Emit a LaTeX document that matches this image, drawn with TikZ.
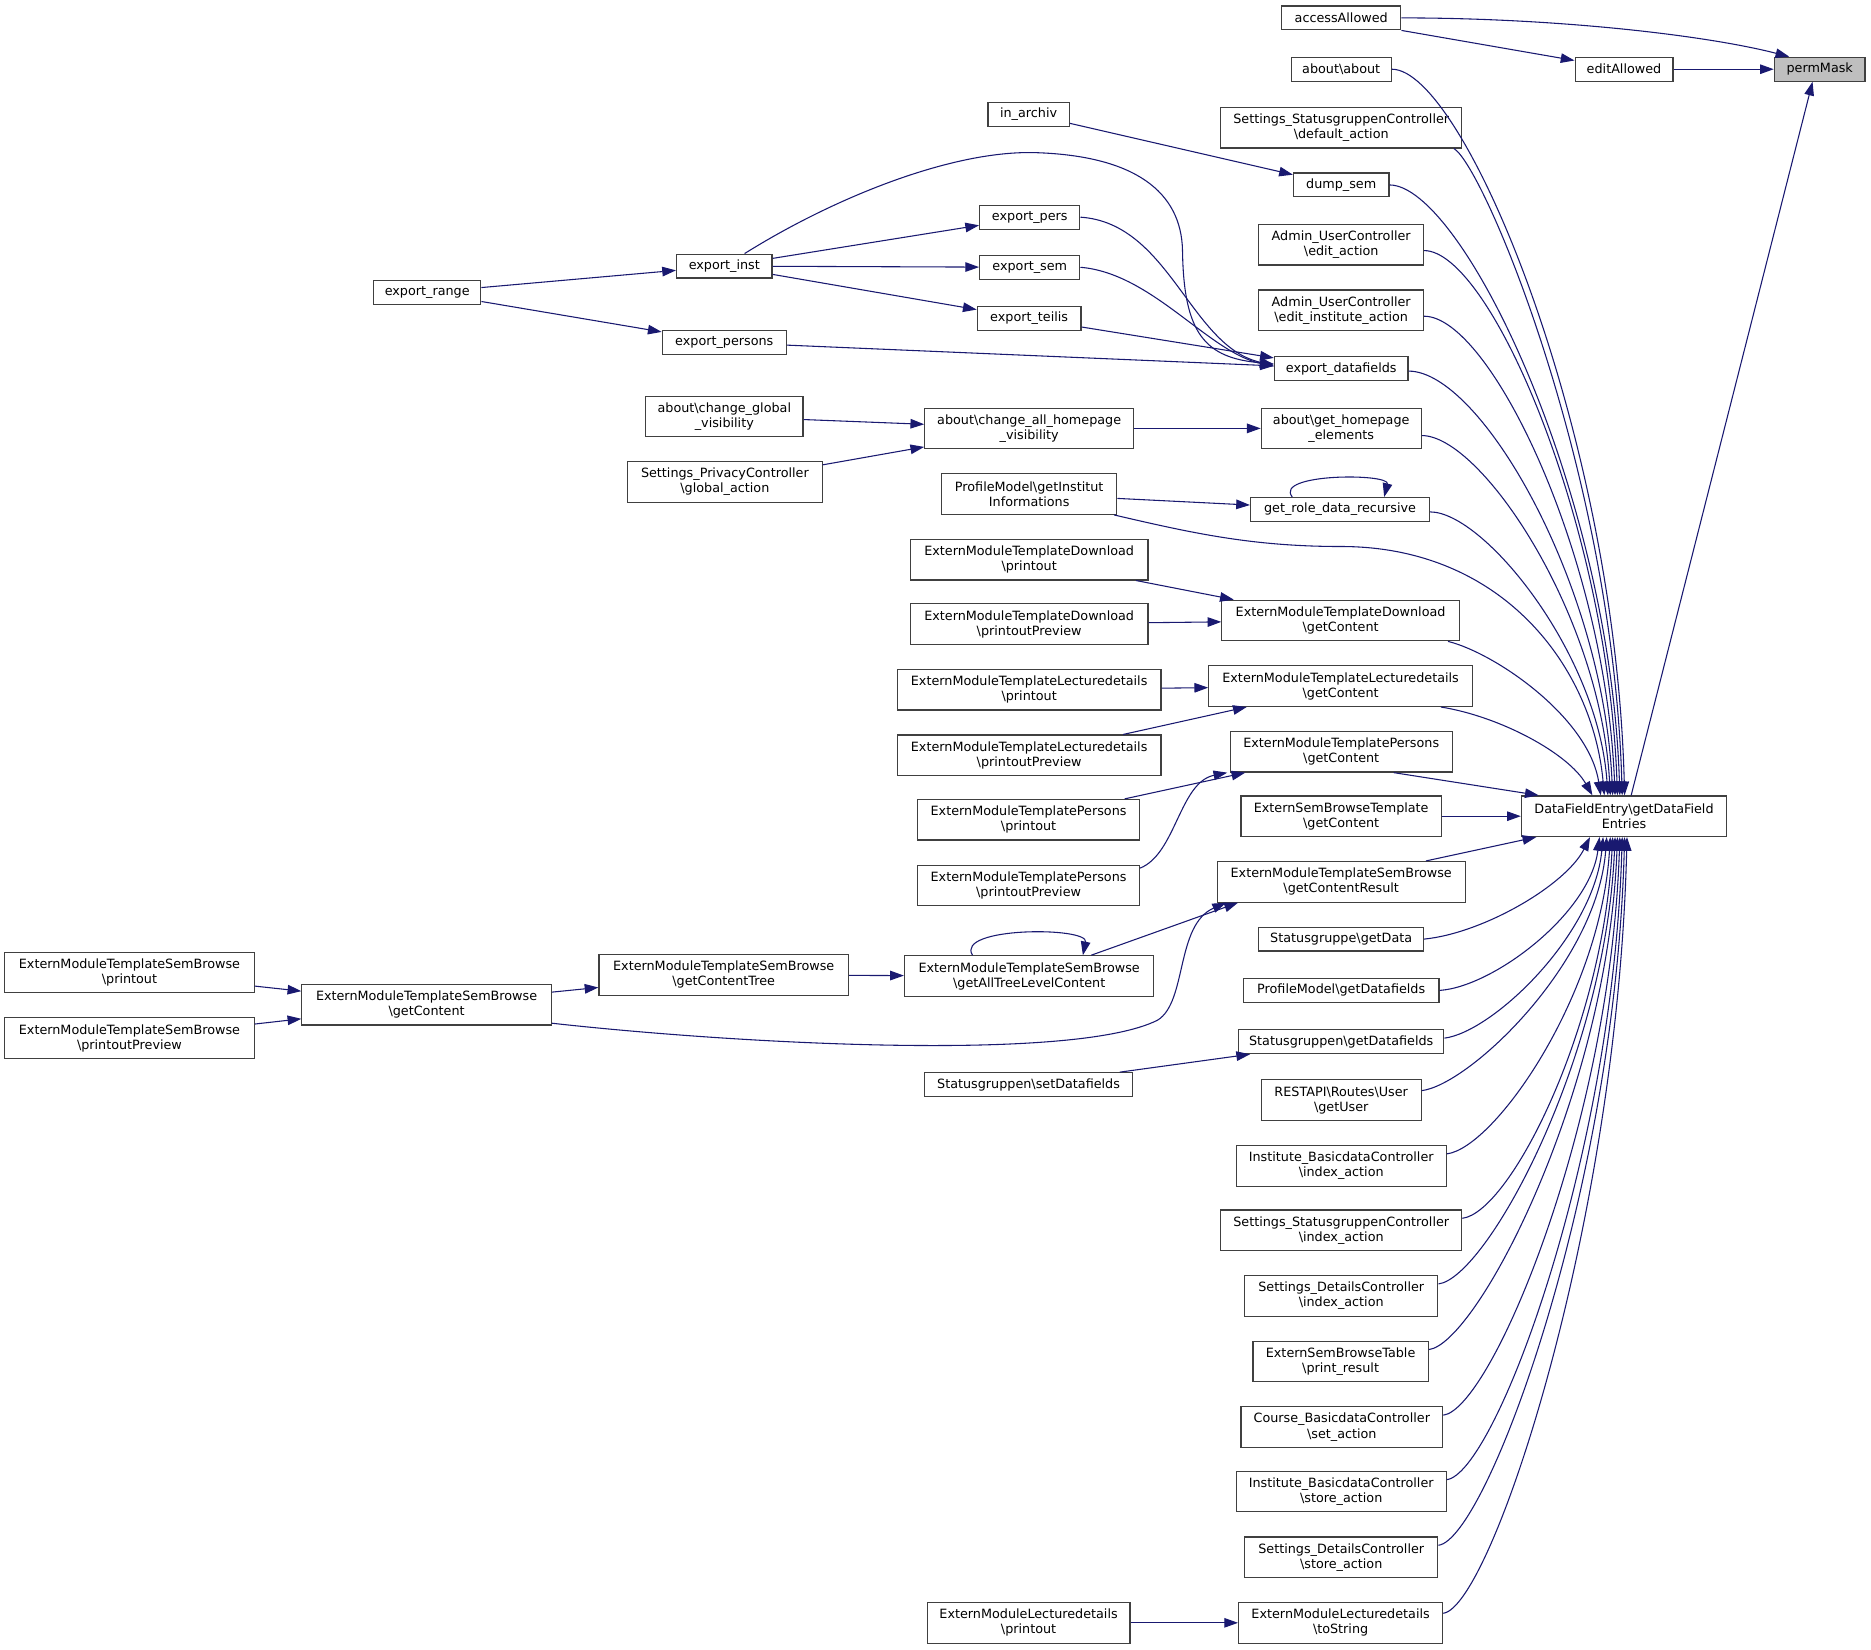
\documentclass[tikz,border=0pt]{standalone}
\usepackage{fontspec}
\setmainfont{DejaVu Sans}
\usetikzlibrary{arrows.meta,calc}
\definecolor{edgec}{RGB}{25,25,112}
\definecolor{bordc}{RGB}{64,64,64}
\definecolor{hlc}{RGB}{191,191,191}
\newcommand{\bsl}{\textbackslash}
\newcommand{\mkbox}[6]{\node[box,minimum width=#4pt,minimum height=#5pt] (#1) at (#2,#3) {#6};}
\tikzset{
  box/.style={draw=bordc, line width=1pt, fill=white, inner sep=0pt, align=center,
    font=\fontsize{10.7}{12.6}\selectfont, text=black},
  edge/.style={draw=edgec, line width=0.9pt, -{Triangle[length=11.5pt,width=8pt]}}
}
\begin{document}
\begin{tikzpicture}[x=1pt,y=-1pt]
\useasboundingbox (0,0) rectangle (1568,1382);
% nodes
\node[box,fill=hlc,minimum width=76pt,minimum height=20pt] (perm) at (1525,58) {permMask};
\mkbox{acc}{1124}{15}{100}{20}{accessAllowed}
\mkbox{edit}{1361}{58}{82}{20}{editAllowed}
\mkbox{about}{1124}{58}{84}{20}{about\bsl about}
\mkbox{defa}{1124}{107}{202}{34}{Settings\_StatusgruppenController\\\bsl default\_action}
\mkbox{arch}{862}{96}{68}{20}{in\_archiv}
\mkbox{dump}{1124}{155}{80}{20}{dump\_sem}
\mkbox{aue}{1124}{205}{138}{34}{Admin\_UserController\\\bsl edit\_action}
\mkbox{aui}{1124}{260}{138}{34}{Admin\_UserController\\\bsl edit\_institute\_action}
\mkbox{epers}{863}{182}{84}{20}{export\_pers}
\mkbox{einst}{607}{223}{80}{20}{export\_inst}
\mkbox{esem}{863}{224}{84}{20}{export\_sem}
\mkbox{erange}{358}{245}{90}{20}{export\_range}
\mkbox{eteil}{862.5}{267}{87}{20}{export\_teilis}
\mkbox{epersons}{607}{287}{104}{20}{export\_persons}
\mkbox{edf}{1124}{309}{112}{20}{export\_datafields}
\mkbox{cgv}{607}{349}{132}{34}{about\bsl change\_global\\\_visibility}
\mkbox{cahv}{862.5}{359}{175}{34}{about\bsl change\_all\_homepage\\\_visibility}
\mkbox{ghe}{1124}{359}{134}{34}{about\bsl get\_homepage\\\_elements}
\mkbox{pga}{607.5}{404}{163}{34}{Settings\_PrivacyController\\\bsl global\_action}
\mkbox{gii}{862.5}{414}{147}{34}{ProfileModel\bsl getInstitut\\Informations}
\mkbox{grole}{1123}{427}{150}{20}{get\_role\_data\_recursive}
\mkbox{etdp}{862.5}{469}{199}{34}{ExternModuleTemplateDownload\\\bsl printout}
\mkbox{etdpp}{862.5}{523}{199}{34}{ExternModuleTemplateDownload\\\bsl printoutPreview}
\mkbox{etdg}{1123.5}{520}{199}{34}{ExternModuleTemplateDownload\\\bsl getContent}
\mkbox{etlp}{862.5}{578}{221}{34}{ExternModuleTemplateLecturedetails\\\bsl printout}
\mkbox{etlg}{1123.5}{575}{221}{34}{ExternModuleTemplateLecturedetails\\\bsl getContent}
\mkbox{etlpp}{862.5}{633}{221}{34}{ExternModuleTemplateLecturedetails\\\bsl printoutPreview}
\mkbox{etpg}{1124}{630}{186}{34}{ExternModuleTemplatePersons\\\bsl getContent}
\mkbox{etpp}{862}{687}{186}{34}{ExternModuleTemplatePersons\\\bsl printout}
\mkbox{esbt}{1124}{684}{168}{34}{ExternSemBrowseTemplate\\\bsl getContent}
\mkbox{dfe}{1361}{684}{172}{34}{DataFieldEntry\bsl getDataField\\Entries}
\mkbox{etppp}{862}{742}{186}{34}{ExternModuleTemplatePersons\\\bsl printoutPreview}
\mkbox{gcr}{1124}{739}{208}{34}{ExternModuleTemplateSemBrowse\\\bsl getContentResult}
\mkbox{sbp}{108.5}{815}{209}{34}{ExternModuleTemplateSemBrowse\\\bsl printout}
\mkbox{sbpp}{108.5}{870}{209}{34}{ExternModuleTemplateSemBrowse\\\bsl printoutPreview}
\mkbox{sbg}{357.5}{842}{209}{34}{ExternModuleTemplateSemBrowse\\\bsl getContent}
\mkbox{sbt}{606.5}{817}{209}{34}{ExternModuleTemplateSemBrowse\\\bsl getContentTree}
\mkbox{gat}{862.5}{818}{209}{34}{ExternModuleTemplateSemBrowse\\\bsl getAllTreeLevelContent}
\mkbox{sgd}{1124}{787}{138}{20}{Statusgruppe\bsl getData}
\mkbox{pmd}{1124}{830}{164}{20}{ProfileModel\bsl getDatafields}
\mkbox{sgf}{1124}{873}{172}{20}{Statusgruppen\bsl getDatafields}
\mkbox{ssf}{862}{909}{174}{20}{Statusgruppen\bsl setDatafields}
\mkbox{gu}{1124}{922}{134}{34}{RESTAPI\bsl Routes\bsl User\\\bsl getUser}
\mkbox{ii}{1124}{977}{176}{34}{Institute\_BasicdataController\\\bsl index\_action}
\mkbox{ssi}{1124}{1031}{202}{34}{Settings\_StatusgruppenController\\\bsl index\_action}
\mkbox{sdi}{1124}{1086}{162}{34}{Settings\_DetailsController\\\bsl index\_action}
\mkbox{pr}{1123.5}{1141}{147}{34}{ExternSemBrowseTable\\\bsl print\_result}
\mkbox{cs}{1124.5}{1196}{169}{34}{Course\_BasicdataController\\\bsl set\_action}
\mkbox{is}{1124}{1250}{176}{34}{Institute\_BasicdataController\\\bsl store\_action}
\mkbox{sds}{1124}{1305}{162}{34}{Settings\_DetailsController\\\bsl store\_action}
\mkbox{elp}{862}{1360}{170}{34}{ExternModuleLecturedetails\\\bsl printout}
\mkbox{ts}{1123.5}{1360}{171}{34}{ExternModuleLecturedetails\\\bsl toString}
% edges to permMask
\draw[edge] (acc.east) .. controls +(130,0) and +(-70,-18) .. ($(perm.north west)+(13,0)$);
\draw[edge] (acc.south east) -- (edit.170);
\draw[edge] (edit) -- (perm);
\draw[edge] ($(dfe.north)+(6,0)$) -- ($(perm.south)+(-6,0)$);
% upper sources to DFE
\draw[edge] (about.east) .. controls +(60,0) and +(-8,-305) .. ($(dfe.north west)+(87,0)$);
\draw[edge] ($(defa.south east)+(-7,0)$) .. controls +(25,15) and +(-8,-271) .. ($(dfe.north west)+(85,0)$);
\draw[edge] (dump.east) .. controls +(60,0) and +(-8,-256) .. ($(dfe.north west)+(83,0)$);
\draw[edge] ($(aue.east)+(0,5)$) .. controls +(55,0) and +(-8,-228) .. ($(dfe.north west)+(81,0)$);
\draw[edge] ($(aui.east)+(0,5)$) .. controls +(55,0) and +(-8,-201) .. ($(dfe.north west)+(79,0)$);
\draw[edge] ($(edf.east)+(0,2)$) .. controls +(60,0) and +(-8,-178) .. ($(dfe.north west)+(77,0)$);
\draw[edge] ($(ghe.east)+(0,6)$) .. controls +(50,0) and +(-8,-151) .. ($(dfe.north west)+(75,0)$);
\draw[edge] ($(grole.east)+(0,2)$) .. controls +(45,0) and +(-8,-119) .. ($(dfe.north west)+(73,0)$);
\draw[edge] ($(gii.south east)+(-3,0)$) .. controls (1000,447) and (1050,458) .. (1124,458)
  .. controls (1260,458) and (1335,560) .. ($(dfe.north west)+(70,0)$);
\draw[edge] ($(etdg.south east)+(-10,0)$) .. controls +(40,10) and +(-10,-65) .. ($(dfe.north west)+(67,0)$);
\draw[edge] ($(etlg.south east)+(-27,0)$) .. controls +(50,8) and +(-20,-35) .. ($(dfe.north west)+(60,0)$);
\draw[edge] ($(etpg.south)+(44,0)$) -- ($(dfe.north west)+(15,0)$);
\draw[edge] (esbt) -- (dfe);
\draw[edge] ($(gcr.north)+(71,0)$) -- ($(dfe.south west)+(13,0)$);
% lower sources to DFE
\draw[edge] (sgd.east) .. controls +(50,-5) and +(-20,40) .. ($(dfe.south west)+(58,0)$);
\draw[edge] (pmd.east) .. controls +(45,-3) and +(-8,64) .. ($(dfe.south west)+(66,0)$);
\draw[edge] ($(sgf.east)+(0,-3)$) .. controls +(40,-5) and +(-8,83) .. ($(dfe.south west)+(69,0)$);
\draw[edge] ($(gu.east)+(0,-8)$) .. controls +(40,-5) and +(-8,106) .. ($(dfe.south west)+(72,0)$);
\draw[edge] ($(ii.east)+(0,-10)$) .. controls +(40,-5) and +(-8,133) .. ($(dfe.south west)+(75,0)$);
\draw[edge] ($(ssi.east)+(0,-10)$) .. controls +(40,-5) and +(-8,160) .. ($(dfe.south west)+(77,0)$);
\draw[edge] ($(sdi.east)+(0,-10)$) .. controls +(40,-5) and +(-8,187) .. ($(dfe.south west)+(79,0)$);
\draw[edge] ($(pr.east)+(0,-10)$) .. controls +(40,-5) and +(-8,215) .. ($(dfe.south west)+(81,0)$);
\draw[edge] ($(cs.east)+(0,-10)$) .. controls +(40,-5) and +(-8,242) .. ($(dfe.south west)+(83,0)$);
\draw[edge] ($(is.east)+(0,-10)$) .. controls +(40,-5) and +(-8,270) .. ($(dfe.south west)+(85,0)$);
\draw[edge] ($(sds.east)+(0,-10)$) .. controls +(40,-5) and +(-8,297) .. ($(dfe.south west)+(87,0)$);
\draw[edge] ($(ts.east)+(0,-8)$) .. controls +(40,-5) and +(-8,325) .. ($(dfe.south west)+(89,0)$);
% left part
\draw[edge] (arch.-12) -- (dump.168);
\draw[edge] (erange) -- (einst);
\draw[edge] (erange) -- (epersons);
\draw[edge] (einst) -- (epers);
\draw[edge] (einst) -- (esem);
\draw[edge] (einst) -- (eteil);
\draw[edge] ($(einst.north)+(17,0)$) .. controls (700,165) and (800,125) .. (870,128)
  .. controls (950,131) and (990,160) .. (991,210)
  .. controls (992,280) and (1010,300) .. ($(edf.west)+(0,-4)$);
\draw[edge] (epers.east) .. controls +(75,5) and +(-70,-15) .. ($(edf.west)+(0,-3)$);
\draw[edge] (esem.east) .. controls +(60,5) and +(-55,-12) .. ($(edf.west)+(0,-2)$);
\draw[edge] (eteil) -- (edf);
\draw[edge] (epersons) -- (edf);
\draw[edge] (cgv) -- (cahv);
\draw[edge] (pga) -- (cahv);
\draw[edge] (cahv) -- (ghe);
\draw[edge] (gii) -- (grole);
\draw[edge] ($(grole.north)+(-40,0)$) .. controls +(-16,-20) and +(5,-20) .. ($(grole.north)+(37,0)$);
\draw[edge] (etdp) -- (etdg);
\draw[edge] (etdpp) -- (etdg);
\draw[edge] (etlp) -- (etlg);
\draw[edge] (etlpp) -- (etlg);
\draw[edge] (etpp) -- (etpg);
\draw[edge] ($(etppp.north east)+(0,3)$) .. controls +(30,-12) and +(-40,8) .. ($(etpg.south west)+(-2,0)$);
\draw[edge] (sbp) -- (sbg);
\draw[edge] (sbpp) -- (sbg);
\draw[edge] (sbg) -- (sbt);
\draw[edge] (sbt) -- (gat);
\draw[edge] ($(gat.north)+(-47.5,0)$) .. controls +(-15,-24) and +(5,-24) .. ($(gat.north)+(45,0)$);
\draw[edge] ($(gat.north)+(52,0)$) -- ($(gcr.south west)+(18,0)$);
\draw[edge] ($(sbg.south east)+(0,-2)$) .. controls (620,875) and (900,890) .. (970,855)
  .. controls (995,840) and (985,775) .. ($(gcr.south west)+(8,0)$);
\draw[edge] (ssf) -- (sgf);
\draw[edge] (elp) -- (ts);
\end{tikzpicture}
\end{document}
